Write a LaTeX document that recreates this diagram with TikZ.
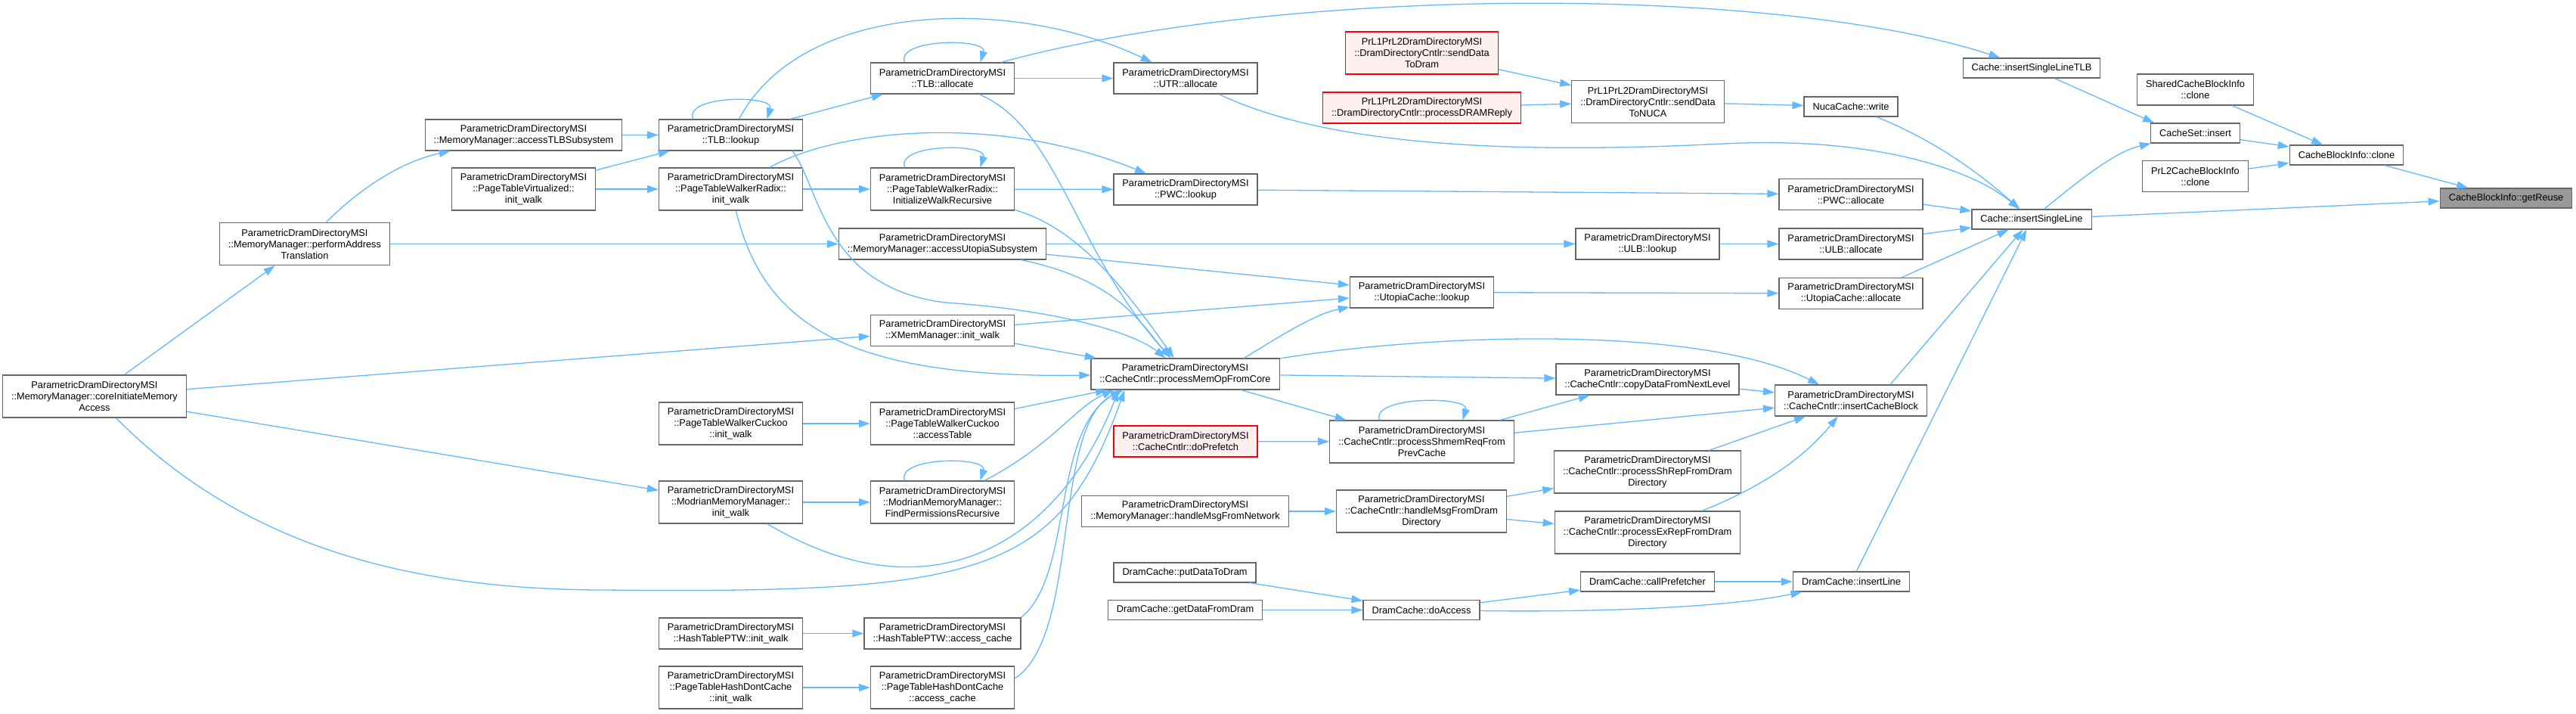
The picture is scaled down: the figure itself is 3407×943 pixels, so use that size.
\documentclass[tikz,border=0pt]{standalone}
\usepackage{fontspec}
\setsansfont{Liberation Sans}
\usetikzlibrary{arrows.meta}
\definecolor{callblue}{HTML}{63B8FF}
\definecolor{frame}{HTML}{666666}
\definecolor{focus}{HTML}{999999}
\definecolor{redline}{HTML}{FF0000}
\definecolor{redfill}{HTML}{FFF0F0}

\begin{document}
\begin{tikzpicture}[
  x=1pt,y=-1pt,
  font=\sffamily\fontsize{12.8}{15}\selectfont,
  fn/.style={draw=frame,fill=white,line width=1.2pt,
    inner xsep=11.5pt,inner ysep=3pt,align=center},
  undoc/.style={fn,draw=redline,fill=redfill},
  focusfn/.style={fn,fill=focus},
  one/.style={minimum height=26pt},
  two/.style={minimum height=41pt},
  three/.style={minimum height=56pt},
  call/.style={-{Triangle[length=15pt,width=10pt]},draw=callblue,line width=1.3pt}
]
\useasboundingbox (0,0) rectangle (3407,943);

\node[fn,three] (cim) at (125,524)
  {ParametricDramDirectoryMSI\\::MemoryManager::coreInitiateMemory\\Access};
\node[fn,three] (pat) at (403,322.5)
  {ParametricDramDirectoryMSI\\::MemoryManager::performAddress\\Translation};
\node[fn,two] (atlb) at (692.5,178.5)
  {ParametricDramDirectoryMSI\\::MemoryManager::accessTLBSubsystem};
\node[fn,three] (ptvirt) at (692.5,250)
  {ParametricDramDirectoryMSI\\::PageTableVirtualized::\\init\_walk};
\node[fn,two] (tlblookup) at (966.5,178.5)
  {ParametricDramDirectoryMSI\\::TLB::lookup};
\node[fn,three] (ptwrinit) at (966.5,250)
  {ParametricDramDirectoryMSI\\::PageTableWalkerRadix::\\init\_walk};
\node[fn,three] (ptwcinit) at (966.5,560)
  {ParametricDramDirectoryMSI\\::PageTableWalkerCuckoo\\::init\_walk};
\node[fn,three] (modinit) at (966.5,664)
  {ParametricDramDirectoryMSI\\::ModrianMemoryManager::\\init\_walk};
\node[fn,two] (htinit) at (966.5,837.5)
  {ParametricDramDirectoryMSI\\::HashTablePTW::init\_walk};
\node[fn,three] (hdcinit) at (966.5,909)
  {ParametricDramDirectoryMSI\\::PageTableHashDontCache\\::init\_walk};
\node[fn,two] (tlballoc) at (1246.5,103.5)
  {ParametricDramDirectoryMSI\\::TLB::allocate};
\node[fn,three] (ptwrrec) at (1246.5,250)
  {ParametricDramDirectoryMSI\\::PageTableWalkerRadix::\\InitializeWalkRecursive};
\node[fn,two] (utopiasub) at (1246.5,322.5)
  {ParametricDramDirectoryMSI\\::MemoryManager::accessUtopiaSubsystem};
\node[fn,two] (xmem) at (1246.5,437)
  {ParametricDramDirectoryMSI\\::XMemManager::init\_walk};
\node[fn,three] (cuckootable) at (1246.5,560)
  {ParametricDramDirectoryMSI\\::PageTableWalkerCuckoo\\::accessTable};
\node[fn,three] (findperm) at (1246.5,664)
  {ParametricDramDirectoryMSI\\::ModrianMemoryManager::\\FindPermissionsRecursive};
\node[fn,two] (htcache) at (1246.5,837.5)
  {ParametricDramDirectoryMSI\\::HashTablePTW::access\_cache};
\node[fn,three] (hdccache) at (1246.5,909)
  {ParametricDramDirectoryMSI\\::PageTableHashDontCache\\::access\_cache};
\node[fn,two] (utralloc) at (1568,103.5)
  {ParametricDramDirectoryMSI\\::UTR::allocate};
\node[fn,two] (pwclookup) at (1568,250.5)
  {ParametricDramDirectoryMSI\\::PWC::lookup};
\node[fn,two] (memop) at (1567.5,494.5)
  {ParametricDramDirectoryMSI\\::CacheCntlr::processMemOpFromCore};
\node[undoc,two] (prefetch) at (1568,583.5)
  {ParametricDramDirectoryMSI\\::CacheCntlr::doPrefetch};
\node[fn,two] (netmsg) at (1567.5,676)
  {ParametricDramDirectoryMSI\\::MemoryManager::handleMsgFromNetwork};
\node[fn,one] (putdram) at (1567,757) {DramCache::putDataToDram};
\node[fn,one] (getdram) at (1567.5,806.5) {DramCache::getDataFromDram};
\node[undoc,three] (todram) at (1880.5,70)
  {PrL1PrL2DramDirectoryMSI\\::DramDirectoryCntlr::sendData\\ToDram};
\node[undoc,two] (dramreply) at (1880.5,142.5)
  {PrL1PrL2DramDirectoryMSI\\::DramDirectoryCntlr::processDRAMReply};
\node[fn,two] (utopialookup) at (1880.5,386.5)
  {ParametricDramDirectoryMSI\\::UtopiaCache::lookup};
\node[fn,three] (shmemreq) at (1880.5,584)
  {ParametricDramDirectoryMSI\\::CacheCntlr::processShmemReqFrom\\PrevCache};
\node[fn,three] (dramdirmsg) at (1880,676)
  {ParametricDramDirectoryMSI\\::CacheCntlr::handleMsgFromDram\\Directory};
\node[fn,one] (doaccess) at (1880,806.5) {DramCache::doAccess};
\node[fn,three] (tonuca) at (2179.5,134.5)
  {PrL1PrL2DramDirectoryMSI\\::DramDirectoryCntlr::sendData\\ToNUCA};
\node[fn,two] (ulblookup) at (2179,322.5)
  {ParametricDramDirectoryMSI\\::ULB::lookup};
\node[fn,two] (copynext) at (2179,501.5)
  {ParametricDramDirectoryMSI\\::CacheCntlr::copyDataFromNextLevel};
\node[fn,three] (shrep) at (2179,624)
  {ParametricDramDirectoryMSI\\::CacheCntlr::processShRepFromDram\\Directory};
\node[fn,three] (exrep) at (2179,704)
  {ParametricDramDirectoryMSI\\::CacheCntlr::processExRepFromDram\\Directory};
\node[fn,one] (callpf) at (2179,769) {DramCache::callPrefetcher};
\node[fn,one] (nucawrite) at (2448,141) {NucaCache::write};
\node[fn,two] (pwcalloc) at (2448,257)
  {ParametricDramDirectoryMSI\\::PWC::allocate};
\node[fn,two] (ulballoc) at (2448,322.5)
  {ParametricDramDirectoryMSI\\::ULB::allocate};
\node[fn,two] (utopiaalloc) at (2448,388)
  {ParametricDramDirectoryMSI\\::UtopiaCache::allocate};
\node[fn,two] (insertblock) at (2448,529.5)
  {ParametricDramDirectoryMSI\\::CacheCntlr::insertCacheBlock};
\node[fn,one] (insertline) at (2448.5,769) {DramCache::insertLine};
\node[fn,one] (linetlb) at (2687,90) {Cache::insertSingleLineTLB};
\node[fn,one] (singleline) at (2687,290) {Cache::insertSingleLine};
\node[fn,two] (sharedclone) at (2903.5,118.5) {SharedCacheBlockInfo\\::clone};
\node[fn,one] (cacheset) at (2903.5,176) {CacheSet::insert};
\node[fn,two] (l2clone) at (2903.5,233) {PrL2CacheBlockInfo\\::clone};
\node[fn,one] (blockclone) at (3103.5,205) {CacheBlockInfo::clone};
\node[focusfn,one] (getreuse) at (3314.5,262) {CacheBlockInfo::getReuse};

\draw[call] (cim) -- (pat);
\draw[call] (cim) -- (xmem);
\draw[call] (cim) -- (modinit);
\draw[call] (cim) .. controls (300,700) and (500,780) .. (800,780)
  .. controls (1300,785) and (1400,760) .. ([xshift=-80pt]memop.south);
\draw[call] (pat) .. controls (470,255) and (525,215) .. (atlb);
\draw[call] (pat) -- (utopiasub);
\draw[call] (atlb) -- (tlblookup);
\draw[call] (ptvirt) -- (tlblookup);
\draw[call] (ptvirt) -- (ptwrinit);
\draw[call] ([xshift=-50pt]tlblookup.north) .. controls +(-12,-32) and +(10,-32)
  .. ([xshift=48pt]tlblookup.north);
\draw[call] (tlblookup) -- (tlballoc);
\draw[call] (tlblookup) .. controls (1060,0) and (1340,-5) .. (utralloc);
\draw[call] ([xshift=-14pt]tlblookup.south east) .. controls (1085,250) and (1090,380)
  .. (1250,400) .. controls (1400,410) and (1500,440) .. (memop);
\draw[call] ([xshift=-50pt]tlballoc.north) .. controls +(-12,-32) and +(10,-32)
  .. ([xshift=50pt]tlballoc.north);
\draw[call] (tlballoc) -- (utralloc);
\draw[call] (tlballoc) .. controls (1700,-20) and (2350,-20) .. (linetlb);
\draw[call] (tlballoc) .. controls (1400,170) and (1420,330) .. (memop);
\draw[call] (ptwrinit) -- (ptwrrec);
\draw[call] (ptwrinit) .. controls (1110,170) and (1320,150) .. (pwclookup);
\draw[call] (ptwrinit) .. controls (1010,430) and (1120,500) .. (memop);
\draw[call] ([xshift=-50pt]ptwrrec.north) .. controls +(-12,-32) and +(10,-32)
  .. ([xshift=50pt]ptwrrec.north);
\draw[call] (ptwrrec) -- (pwclookup);
\draw[call] (ptwrrec) .. controls (1420,300) and (1480,370) .. (memop);
\draw[call] (utopiasub) -- (ulblookup);
\draw[call] (utopiasub) -- (utopialookup);
\draw[call] (utopiasub) .. controls (1480,370) and (1510,430) .. (memop);
\draw[call] (xmem) -- (utopialookup);
\draw[call] (xmem) -- (memop);
\draw[call] (ptwcinit) -- (cuckootable);
\draw[call] (cuckootable) -- (memop);
\draw[call] (modinit) -- (findperm);
\draw[call] (modinit) .. controls (1230,820) and (1400,720) .. ([xshift=-88pt]memop.south);
\draw[call] ([xshift=-50pt]findperm.north) .. controls +(-12,-32) and +(10,-32)
  .. ([xshift=50pt]findperm.north);
\draw[call] (findperm) .. controls (1390,590) and (1420,540) .. ([xshift=-95pt]memop.south);
\draw[call] (htinit) -- (htcache);
\draw[call] (htcache.north east) .. controls (1420,760) and (1390,570)
  .. ([xshift=-84pt]memop.south);
\draw[call] (hdcinit) -- (hdccache);
\draw[call] ([yshift=12pt]hdccache.east) .. controls (1430,840) and (1390,560)
  .. ([xshift=-82pt]memop.south);
\draw[call] (utralloc) .. controls (1750,190) and (1980,205) .. (2280,190)
  .. controls (2480,180) and (2610,225) .. (singleline);
\draw[call] (pwclookup) -- (pwcalloc);
\draw[call] ([xshift=78pt]memop.north) .. controls (1700,440) and (1740,415) .. (utopialookup);
\draw[call] (memop) .. controls (1900,440) and (2250,430) .. (insertblock);
\draw[call] (memop) -- (copynext);
\draw[call] (memop) -- (shmemreq);
\draw[call] (prefetch) -- (shmemreq);
\draw[call] (netmsg) -- (dramdirmsg);
\draw[call] (putdram) -- (doaccess);
\draw[call] (getdram) -- (doaccess);
\draw[call] (todram) -- (tonuca);
\draw[call] (dramreply) -- (tonuca);
\draw[call] (utopialookup) -- (utopiaalloc);
\draw[call] ([xshift=-56pt]shmemreq.north) .. controls +(-12,-32) and +(10,-32)
  .. ([xshift=54pt]shmemreq.north);
\draw[call] (shmemreq) -- (copynext);
\draw[call] (shmemreq) -- (insertblock);
\draw[call] (dramdirmsg) -- (shrep);
\draw[call] (dramdirmsg) -- (exrep);
\draw[call] (doaccess) -- (callpf);
\draw[call] (doaccess) .. controls (2150,810) and (2300,800) .. (insertline);
\draw[call] (tonuca) -- (nucawrite);
\draw[call] (ulblookup) -- (ulballoc);
\draw[call] (copynext) -- (insertblock);
\draw[call] (shrep) -- (insertblock);
\draw[call] (exrep) .. controls (2340,640) and (2390,600) .. (insertblock);
\draw[call] (callpf) -- (insertline);
\draw[call] (nucawrite) .. controls (2570,190) and (2630,240) .. (singleline);
\draw[call] (pwcalloc) -- (singleline);
\draw[call] (ulballoc) -- (singleline);
\draw[call] ([xshift=67pt]utopiaalloc.north) -- (singleline);
\draw[call] ([xshift=52pt]insertblock.north) -- (singleline);
\draw[call] (insertline) -- (singleline);
\draw[call] (linetlb) -- ([xshift=5pt]cacheset.north west);
\draw[call] (singleline) .. controls (2760,230) and (2800,200) .. (cacheset);
\draw[call] (singleline) -- (getreuse);
\draw[call] (sharedclone) -- (blockclone);
\draw[call] (cacheset) -- (blockclone);
\draw[call] (l2clone) -- (blockclone);
\draw[call] (blockclone) -- (getreuse);
\end{tikzpicture}
\end{document}
